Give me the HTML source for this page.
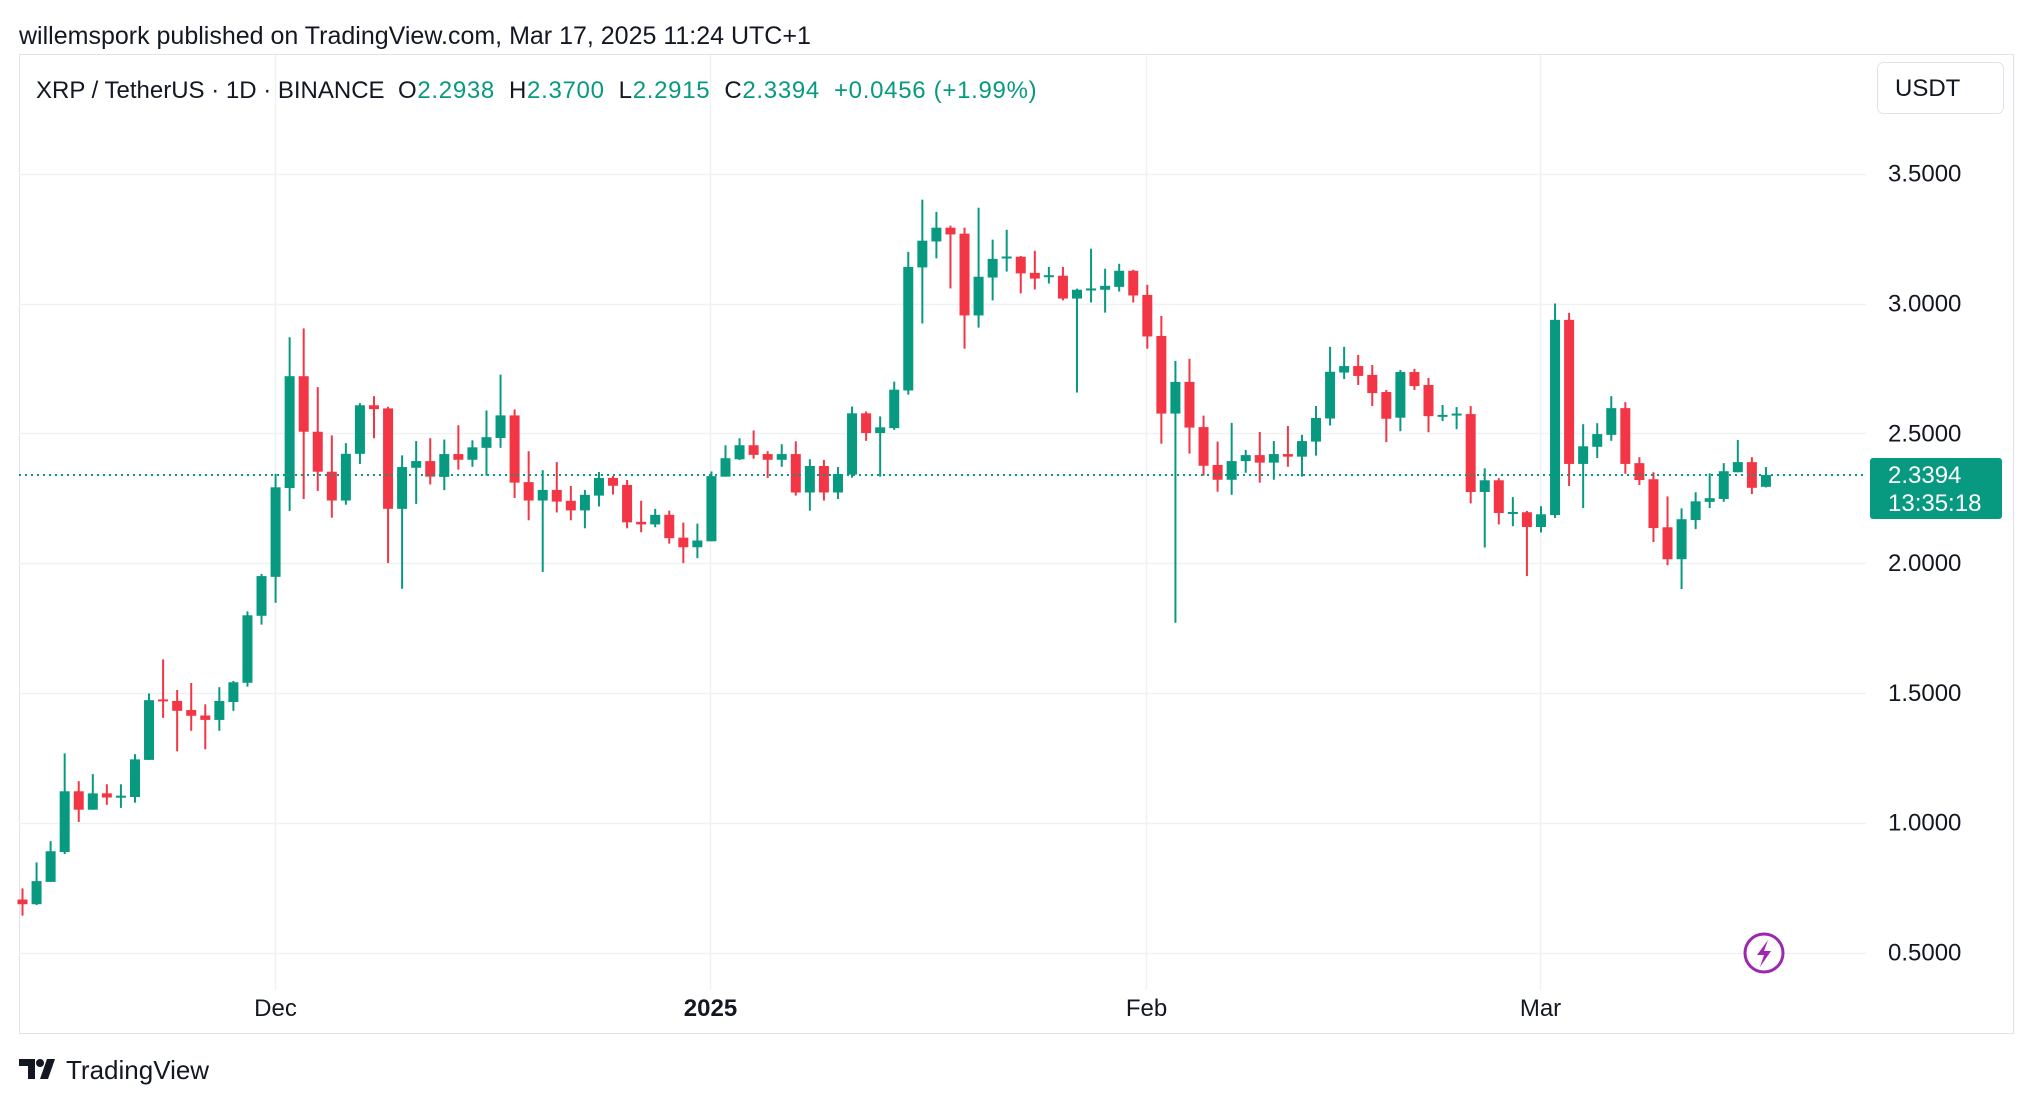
<!DOCTYPE html>
<html><head><meta charset="utf-8"><style>
html,body{margin:0;padding:0;background:#fff;}
body{width:2032px;height:1104px;overflow:hidden;font-family:"Liberation Sans",sans-serif;position:relative;}
svg text{font-family:"Liberation Sans",sans-serif;}
</style></head><body>
<svg id="chart" width="2032" height="1104" viewBox="0 0 2032 1104" xmlns="http://www.w3.org/2000/svg">
<text x="19" y="44" font-size="25" fill="#131722">willemspork published on TradingView.com, Mar 17, 2025 11:24 UTC+1</text>
<rect x="19.5" y="54.5" width="1994" height="979" fill="none" stroke="#e0e3eb" stroke-width="1"/>
<g id="grid"></g>
<g id="candles"></g>
<g id="axis"></g>
<g>
<text x="36" y="98" font-size="24" fill="#131722">XRP / TetherUS · 1D · BINANCE</text>
<text x="398" y="98" font-size="24" letter-spacing="0.7"><tspan fill="#131722">O</tspan><tspan fill="#089981">2.2938</tspan><tspan fill="#131722" dx="14">H</tspan><tspan fill="#089981">2.3700</tspan><tspan fill="#131722" dx="14">L</tspan><tspan fill="#089981">2.2915</tspan><tspan fill="#131722" dx="14">C</tspan><tspan fill="#089981">2.3394</tspan><tspan fill="#089981" dx="14">+0.0456 (+1.99%)</tspan></text>
</g>
<g>
<rect x="1877.5" y="62.5" width="126" height="51" rx="6" fill="#fff" stroke="#e0e3eb"/>
<text x="1895" y="96" font-size="24" fill="#131722">USDT</text>
</g>
<g>
<circle cx="1764" cy="953" r="19" fill="#fff" stroke="#9c27b0" stroke-width="3"/>
<path d="M1768 940 L1757 955 L1764 955 L1760 967 L1771 951 L1764 951 Z" fill="#9c27b0"/>
</g>
<g>
<path d="M19 1059 h16 v20 h-7 v-13 h-9 z M40 1079 l7 -20 h8 l-7 20 z" fill="#131722"/>
<circle cx="40" cy="1063" r="4" fill="#131722"/>
<text x="66" y="1079" font-size="26" fill="#131722">TradingView</text>
</g>
</svg>
<script>
const opens=[0.704,0.686,0.772,0.887,1.121,1.050,1.113,1.100,1.099,1.242,1.475,1.469,1.434,1.413,1.396,1.465,1.539,1.797,1.947,2.289,2.720,2.506,2.352,2.241,2.421,2.608,2.596,2.209,2.367,2.393,2.332,2.420,2.398,2.444,2.482,2.569,2.312,2.241,2.282,2.240,2.203,2.260,2.328,2.301,2.159,2.149,2.186,2.098,2.061,2.084,2.333,2.400,2.454,2.420,2.398,2.420,2.272,2.374,2.272,2.341,2.577,2.501,2.520,2.665,3.139,3.239,3.292,3.269,2.954,3.100,3.175,3.180,3.118,3.105,3.107,3.019,3.050,3.053,3.064,3.126,3.033,2.875,2.576,2.698,2.524,2.378,2.321,2.393,2.416,2.387,2.420,2.410,2.468,2.557,2.734,2.759,2.725,2.659,2.560,2.736,2.686,2.568,2.572,2.574,2.274,2.319,2.195,2.196,2.139,2.185,2.937,2.382,2.448,2.494,2.597,2.385,2.323,2.138,2.015,2.166,2.236,2.247,2.350,2.389,2.2938];
const highs=[0.747,0.847,0.929,1.267,1.160,1.187,1.148,1.148,1.264,1.498,1.629,1.511,1.538,1.456,1.522,1.546,1.814,1.958,2.344,2.870,2.904,2.678,2.492,2.462,2.616,2.643,2.602,2.415,2.470,2.481,2.476,2.531,2.473,2.588,2.726,2.592,2.431,2.358,2.389,2.297,2.282,2.351,2.336,2.320,2.240,2.209,2.202,2.156,2.152,2.353,2.454,2.481,2.511,2.431,2.458,2.469,2.400,2.397,2.370,2.603,2.584,2.565,2.699,3.199,3.400,3.353,3.300,3.292,3.369,3.246,3.284,3.183,3.203,3.141,3.141,3.057,3.211,3.134,3.153,3.130,3.072,2.952,2.779,2.787,2.568,2.468,2.540,2.436,2.505,2.470,2.528,2.494,2.605,2.833,2.833,2.802,2.763,2.667,2.744,2.748,2.713,2.609,2.601,2.605,2.365,2.327,2.254,2.201,2.219,3.000,2.964,2.535,2.539,2.643,2.620,2.408,2.350,2.257,2.211,2.273,2.346,2.385,2.474,2.408,2.3700];
const lows=[0.642,0.683,0.772,0.879,1.003,1.050,1.069,1.057,1.077,1.242,1.404,1.275,1.354,1.283,1.354,1.431,1.524,1.763,1.847,2.201,2.247,2.278,2.175,2.225,2.382,2.481,2.000,1.901,2.228,2.303,2.281,2.360,2.371,2.337,2.444,2.251,2.165,1.966,2.195,2.165,2.134,2.218,2.264,2.134,2.119,2.138,2.075,2.000,2.019,2.084,2.333,2.397,2.402,2.328,2.371,2.260,2.202,2.241,2.247,2.329,2.471,2.333,2.513,2.649,2.923,3.174,3.058,2.826,2.907,3.012,3.123,3.039,3.054,3.077,3.012,2.657,3.004,2.965,3.046,3.004,2.826,2.460,1.770,2.422,2.337,2.275,2.263,2.348,2.310,2.321,2.371,2.333,2.414,2.530,2.709,2.686,2.605,2.466,2.508,2.667,2.504,2.547,2.516,2.230,2.060,2.149,2.142,1.950,2.118,2.174,2.297,2.212,2.405,2.471,2.344,2.301,2.081,1.992,1.900,2.131,2.212,2.236,2.350,2.266,2.2915];
const closes=[0.686,0.775,0.890,1.121,1.050,1.113,1.097,1.104,1.244,1.472,1.470,1.431,1.412,1.396,1.469,1.541,1.799,1.950,2.292,2.720,2.506,2.352,2.241,2.421,2.608,2.593,2.209,2.370,2.393,2.333,2.420,2.398,2.446,2.485,2.569,2.310,2.241,2.282,2.237,2.203,2.263,2.328,2.298,2.157,2.149,2.186,2.096,2.061,2.087,2.335,2.404,2.454,2.417,2.398,2.420,2.272,2.374,2.272,2.343,2.577,2.501,2.523,2.668,3.141,3.242,3.292,3.266,2.954,3.103,3.172,3.181,3.116,3.096,3.109,3.019,3.053,3.058,3.068,3.126,3.031,2.873,2.576,2.698,2.522,2.375,2.321,2.393,2.416,2.387,2.420,2.410,2.470,2.559,2.737,2.759,2.721,2.655,2.556,2.736,2.682,2.566,2.571,2.576,2.274,2.319,2.193,2.197,2.139,2.188,2.937,2.382,2.450,2.497,2.597,2.382,2.320,2.135,2.015,2.169,2.238,2.250,2.354,2.389,2.290,2.3394];
const priceTicks=[3.5,3.0,2.5,2.0,1.5,1.0,0.5];
const priceTickLabels=["3.5000","3.0000","2.5000","2.0000","1.5000","1.0000","0.5000"];
const dateLabels=["Dec","2025","Feb","Mar"];
const dateLabelIndex=[18,49,80,108];
const lastPrice=2.3394;
const countdown="13:35:18";

const NS="http://www.w3.org/2000/svg";
const PLOT_L=19, PLOT_R=1866;
function xScale(i){return 22.5+i*14.06;}
function yScale(p){return 173.7+(3.5-p)*259.6;}
function mk(tag,attrs,parent){const e=document.createElementNS(NS,tag);for(const k in attrs)e.setAttribute(k,attrs[k]);parent.appendChild(e);return e;}
const grid=document.getElementById('grid'),cg=document.getElementById('candles'),ax=document.getElementById('axis');
priceTicks.forEach((p,k)=>{
  const y=Math.round(yScale(p))+0.5;
  const l=mk('line',{x1:PLOT_L,x2:PLOT_R,y1:y,y2:y,stroke:'#f0f1f3','stroke-width':1.5},grid);
  
  
  const t=mk('text',{x:1888,y:yScale(p)+8,'font-size':24,fill:'#131722'},ax);
  t.textContent=priceTickLabels[k];
  
  
});
dateLabels.forEach((d,k)=>{
  const x=Math.round(xScale(dateLabelIndex[k]))-0.5;
  const l=mk('line',{x1:x,x2:x,y1:55,y2:990,stroke:'#f0f1f3','stroke-width':1.5},grid);
  
  
  const t=mk('text',{x:x,y:1016,'font-size':24,fill:'#131722','text-anchor':'middle','font-weight':d==='2025'?'bold':'normal'},ax);
  t.textContent=d;
  
  
});
opens.forEach((o,i)=>{
  const c=closes[i],up=c>=o,col=up?'#089981':'#F23645',x=xScale(i);
  const w=mk('rect',{x:x-1,y:yScale(highs[i]),width:2,height:Math.max(1,yScale(lows[i])-yScale(highs[i])),fill:col},cg);
  
  
  const top=yScale(Math.max(o,c)),bot=yScale(Math.min(o,c));
  const b=mk('rect',{x:x-5,y:top,width:10,height:Math.max(2,bot-top),fill:col},cg);
  
  
});
const ly=yScale(lastPrice);
const pl=mk('line',{x1:PLOT_L,x2:PLOT_R,y1:ly,y2:ly,stroke:'#089981','stroke-width':2,'stroke-dasharray':'2 4'},ax);


const tag=mk('rect',{x:1870,y:ly-17,width:132,height:61,rx:3,fill:'#089981'},ax);


const t1=mk('text',{x:1888,y:ly+8,'font-size':24,fill:'#fff'},ax);
t1.textContent=lastPrice.toFixed(4);


const t2=mk('text',{x:1888,y:ly+36,'font-size':24,fill:'#fff'},ax);
t2.textContent=countdown;


</script>
</body></html>
